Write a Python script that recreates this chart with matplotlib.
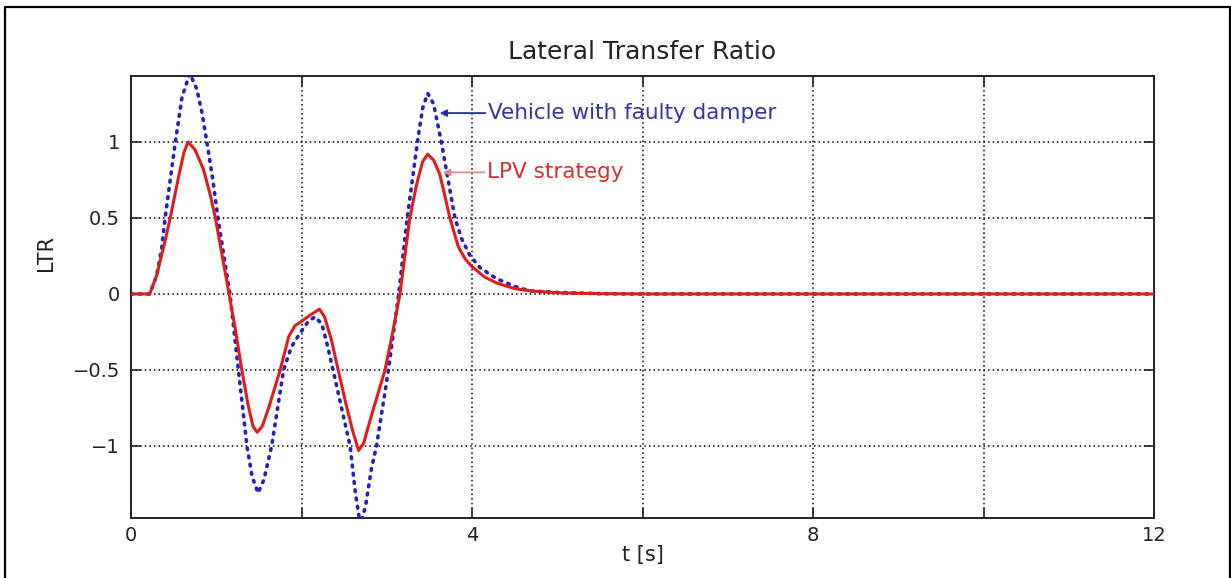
import matplotlib
matplotlib.use("Agg")
import matplotlib.pyplot as plt
from matplotlib.lines import Line2D

# ---- data ----
t_lpv = [0, 0.22, 0.30, 0.40, 0.46, 0.55, 0.62, 0.67, 0.75, 0.85, 0.93, 0.99,
         1.07, 1.15, 1.22, 1.30, 1.37, 1.43, 1.48, 1.54, 1.62, 1.75, 1.85, 1.92,
         2.00, 2.10, 2.21, 2.27, 2.35, 2.43, 2.52, 2.60, 2.67, 2.73, 2.82, 2.98,
         3.07, 3.155, 3.27, 3.35, 3.42, 3.48, 3.55, 3.62, 3.68, 3.74, 3.84, 3.92,
         4.00, 4.15, 4.30, 4.50, 4.70, 5.00, 5.50, 6.00, 12.0]
ltr_lpv = [0, 0, 0.12, 0.35, 0.50, 0.75, 0.93, 1.00, 0.95, 0.82, 0.65, 0.50,
           0.25, 0.00, -0.22, -0.50, -0.72, -0.87, -0.91, -0.87, -0.74, -0.50, -0.28, -0.21,
           -0.18, -0.14, -0.10, -0.15, -0.30, -0.50, -0.72, -0.90, -1.03, -0.98, -0.80, -0.50,
           -0.25, 0.00, 0.50, 0.72, 0.87, 0.92, 0.88, 0.79, 0.65, 0.50, 0.31, 0.23,
           0.18, 0.11, 0.07, 0.035, 0.02, 0.008, 0.002, 0.0, 0.0]

t_faulty = [0, 0.22, 0.30, 0.36, 0.40, 0.46, 0.52, 0.60, 0.69, 0.77, 0.83, 0.89,
            0.96, 1.02, 1.09, 1.16, 1.21, 1.26, 1.31, 1.36, 1.42, 1.49, 1.56, 1.65,
            1.72, 1.79, 1.88, 1.98, 2.08, 2.16, 2.24, 2.30, 2.37, 2.47, 2.57, 2.63,
            2.69, 2.75, 2.82, 2.88, 2.95, 3.02, 3.08, 3.14, 3.19, 3.24, 3.30, 3.36,
            3.42, 3.48, 3.55, 3.64, 3.72, 3.80, 3.88, 3.98, 4.10, 4.29, 4.50, 4.68,
            5.00, 5.50, 6.00, 12.0]
ltr_faulty = [0, 0, 0.12, 0.30, 0.50, 0.75, 1.00, 1.30, 1.45, 1.35, 1.20, 1.00,
              0.75, 0.50, 0.25, 0.00, -0.25, -0.50, -0.75, -1.00, -1.20, -1.31, -1.22, -1.00,
              -0.75, -0.50, -0.35, -0.26, -0.18, -0.15, -0.20, -0.33, -0.50, -0.75, -1.00, -1.30,
              -1.52, -1.40, -1.15, -1.00, -0.75, -0.50, -0.25, 0.00, 0.25, 0.50, 0.75, 1.00,
              1.22, 1.32, 1.25, 1.00, 0.75, 0.50, 0.36, 0.25, 0.17, 0.10, 0.05, 0.02,
              0.01, 0.002, 0.0, 0.0]

x_ticks = [0, 2, 4, 6, 8, 10, 12]
x_ticklabels = ["0", "", "4", "", "8", "", "12"]
y_ticks = [-1, -0.5, 0, 0.5, 1]
y_ticklabels = ["\u22121", "\u22120.5", "0", "0.5", "1"]

title = "Lateral Transfer Ratio"
xlabel = "t [s]"
ylabel = "LTR"
label_faulty = "Vehicle with faulty damper"
label_lpv = "LPV strategy"

# ---- figure ----
plt.rcParams['font.family'] = ['DejaVu Sans']
fig = plt.figure(figsize=(12.31, 5.78), dpi=100)
ax = fig.add_axes([131/1231, 1 - 518/578, (1154 - 131)/1231, (518 - 76)/578])

ax.plot(t_faulty, ltr_faulty, color='#2222b8', lw=2.6,
        linestyle=(0, (0.5, 1.8)), dash_capstyle='round', zorder=3)
ax.plot(t_lpv, ltr_lpv, color='#e01c1c', lw=2.2, zorder=4)

ax.set_xlim(0, 12)
ax.set_ylim(-1.474, 1.434)
ax.set_xticks(x_ticks)
ax.set_xticklabels(x_ticklabels)
ax.set_yticks(y_ticks)
ax.set_yticklabels(y_ticklabels)
ax.tick_params(direction='in', length=7, width=1.2, labelsize=14,
               top=True, right=True, colors='#222222', pad=6)
ax.tick_params(axis='y', pad=8)
ax.grid(True, color='black', linestyle=(0, (1, 2)), lw=1.1)
for s in ax.spines.values():
    s.set_linewidth(1.4)
    s.set_color('#222222')

ax.set_title(title, fontsize=18, pad=12, color='#222222')
ax.set_xlabel(xlabel, fontsize=15, color='#222222', labelpad=0)
ax.set_ylabel(ylabel, fontsize=15, color='#222222')
ax.yaxis.set_label_coords(-0.073, 0.60)

ax.annotate(label_faulty, xy=(3.62, 1.19), xytext=(4.19, 1.19),
            va='center', ha='left', fontsize=15.5, color='#3434a8',
            arrowprops=dict(arrowstyle='-|>', color='#2a2aa0', lw=1.3,
                            shrinkA=0, shrinkB=0, mutation_scale=10))
ax.annotate(label_lpv, xy=(3.66, 0.80), xytext=(4.18, 0.80),
            va='center', ha='left', fontsize=15.5, color='#d43030',
            arrowprops=dict(arrowstyle='-|>', color='#e08a8a', lw=1.3,
                            shrinkA=0, shrinkB=0, mutation_scale=10))

# outer frame of the figure (left, top, right visible)
x0, x1 = 5/1231, 1229.5/1231
y0, y1 = -0.01, 1 - 7/578
fig.add_artist(Line2D([x0, x0, x1, x1], [y0, y1, y1, y0], color='black',
                      lw=1.6, transform=fig.transFigure))

fig.savefig("out.png", dpi=100)
